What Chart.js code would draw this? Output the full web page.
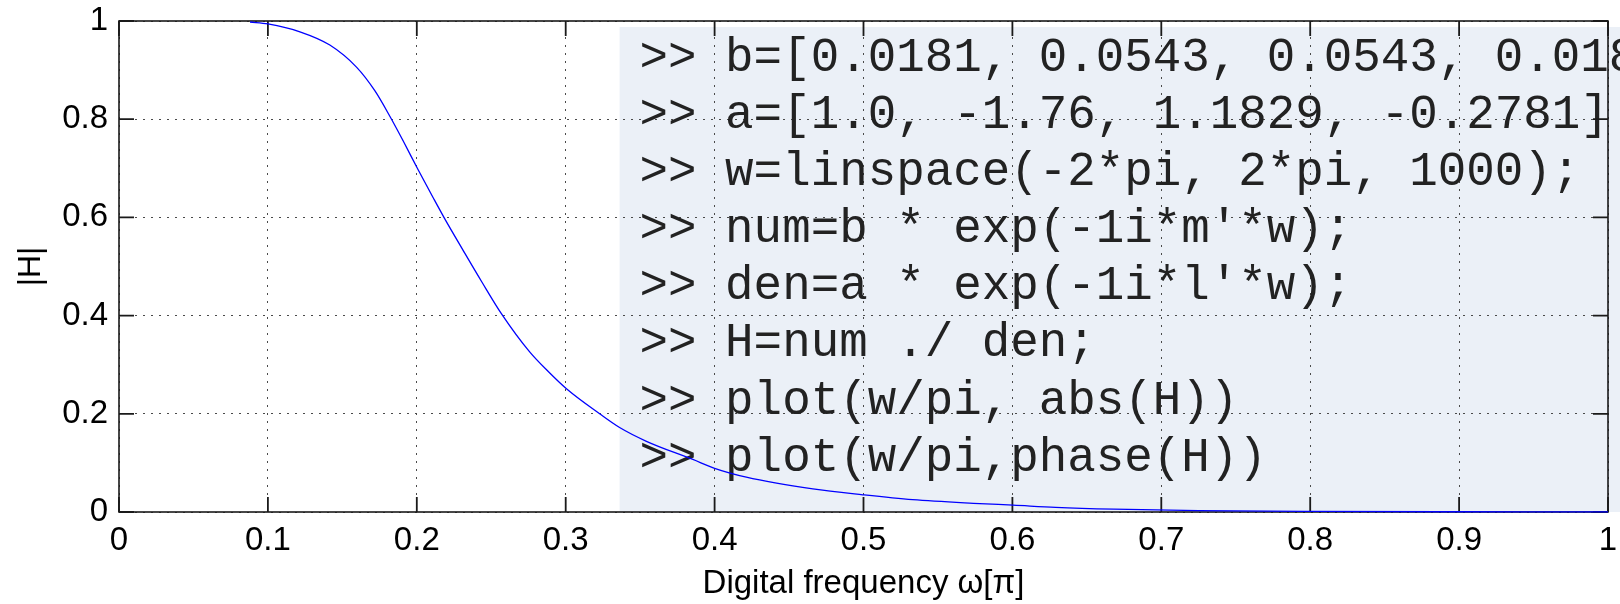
<!DOCTYPE html>
<html>
<head>
<meta charset="utf-8">
<script src="https://cdn.jsdelivr.net/npm/chart.js@4.4.0/dist/chart.umd.min.js"></script>
<style>
  html, body { margin: 0; padding: 0; background: #ffffff; }
  #wrap { width: 1620px; height: 604px; }
</style>
</head>
<body>
<div id="wrap"><canvas id="c" width="1620" height="604"></canvas></div>
<script>
// ---- data ----
const freq = [0.088, 0.100, 0.1215, 0.1416, 0.1595, 0.1718, 0.1819, 0.1908, 0.2009, 0.2110,
              0.2188, 0.2311, 0.2434, 0.2568, 0.2758, 0.2893, 0.3005, 0.3228, 0.3362, 0.3542,
              0.3854, 0.4000, 0.4213, 0.4660, 0.4995, 0.5330, 0.5780, 0.6005, 0.6290, 0.6680,
              0.7250, 0.8000, 0.9000, 1.0000];
const mag  = [0.998, 0.994, 0.978, 0.951, 0.906, 0.858, 0.806, 0.756, 0.697, 0.640,
              0.597, 0.533, 0.470, 0.404, 0.326, 0.283, 0.251, 0.200, 0.172, 0.144,
              0.107, 0.089, 0.071, 0.047, 0.035, 0.0250, 0.0172, 0.0140, 0.0095, 0.0058,
              0.0028, 0.0012, 0.0005, 0.0003];
const xTickValues = [0, 0.1, 0.2, 0.3, 0.4, 0.5, 0.6, 0.7, 0.8, 0.9, 1];
const xTickLabels = ['0', '0.1', '0.2', '0.3', '0.4', '0.5', '0.6', '0.7', '0.8', '0.9', '1'];
const yTickValues = [0, 0.2, 0.4, 0.6, 0.8, 1];
const yTickLabels = ['0', '0.2', '0.4', '0.6', '0.8', '1'];
const xTitle = 'Digital frequency \u03c9[\u03c0]';
const yTitle = '|H|';
const codeLines = [
  '>> b=[0.0181, 0.0543, 0.0543, 0.0181]',
  '>> a=[1.0, -1.76, 1.1829, -0.2781]',
  '>> w=linspace(-2*pi, 2*pi, 1000);',
  ">> num=b * exp(-1i*m'*w);",
  ">> den=a * exp(-1i*l'*w);",
  '>> H=num ./ den;',
  '>> plot(w/pi, abs(H))',
  '>> plot(w/pi,phase(H))'
];

const SANS = '"Liberation Sans", Arial, sans-serif';
const MONO = '"Liberation Mono", "Courier New", monospace';

function drawFrameAndTicks(chart) {
  const {ctx, chartArea} = chart;
  const x = chart.scales.x, y = chart.scales.y;
  const L = chartArea.left, R = chartArea.right, T = chartArea.top, B = chartArea.bottom;
  const tl = 15;
  ctx.save();
  ctx.setLineDash([]);
  ctx.strokeStyle = '#1a1a1a';
  ctx.lineWidth = 1.6;
  ctx.strokeRect(L, T, R - L, B - T);
  ctx.lineWidth = 1.8;
  ctx.beginPath();
  for (let i = 0; i < xTickValues.length; i++) {
    const px = x.getPixelForValue(xTickValues[i]);
    ctx.moveTo(px, B); ctx.lineTo(px, B - tl);
    ctx.moveTo(px, T); ctx.lineTo(px, T + tl);
  }
  for (let i = 0; i < yTickValues.length; i++) {
    const py = y.getPixelForValue(yTickValues[i]);
    ctx.moveTo(L, py); ctx.lineTo(L + tl, py);
    ctx.moveTo(R, py); ctx.lineTo(R - tl, py);
  }
  ctx.stroke();
  ctx.restore();
}

const boxPlugin = {
  id: 'codeBox',
  beforeDraw(chart) {
    const {ctx, chartArea} = chart;
    const x = chart.scales.x, y = chart.scales.y;
    const left = x.getPixelForValue(0.3362);
    const top = y.getPixelForValue(0.9878);
    ctx.save();
    ctx.fillStyle = 'rgb(235,240,247)';
    ctx.fillRect(left, top, chart.width - left, chartArea.bottom - top);
    ctx.restore();
  },
  beforeDatasetsDraw(chart) {
    const {ctx} = chart;
    const x = chart.scales.x, y = chart.scales.y;
    const left = x.getPixelForValue(0.3362);
    const top = y.getPixelForValue(0.9878);
    ctx.save();
    ctx.fillStyle = '#222';
    ctx.font = '47.5px ' + MONO;
    ctx.textBaseline = 'alphabetic';
    ctx.textAlign = 'left';
    codeLines.forEach((line, i) => {
      ctx.fillText(line, left + 20, top + 44 + i * 57.1);
    });
    ctx.restore();
    drawFrameAndTicks(chart);
  }
};

new Chart(document.getElementById('c'), {
  type: 'line',
  data: {
    datasets: [{
      data: freq.map((f, i) => ({x: f, y: mag[i]})),
      borderColor: '#0000ff',
      borderWidth: 1.3,
      pointRadius: 0,
      fill: false,
      cubicInterpolationMode: 'monotone',
      clip: false
    }]
  },
  plugins: [boxPlugin],
  options: {
    responsive: false,
    animation: false,
    devicePixelRatio: 1,
    layout: { padding: { top: 21, right: 12, left: 0, bottom: 0 } },
    plugins: { legend: { display: false }, tooltip: { enabled: false }, title: { display: false } },
    scales: {
      x: {
        type: 'linear', min: 0, max: 1,
        afterBuildTicks: s => { s.ticks = xTickValues.map(v => ({value: v})); },
        afterFit: s => { s.height = 92; s.paddingLeft = 0; s.paddingRight = 0; },
        ticks: {
          autoSkip: false, maxRotation: 0, padding: 9, color: '#000',
          font: { family: SANS, size: 33 },
          callback: (v, i) => xTickLabels[i]
        },
        grid: { color: '#4a4a4a', lineWidth: 1, drawTicks: false },
        border: { display: false, dash: [2, 6] },
        title: { display: true, text: xTitle, color: '#000', font: { family: SANS, size: 33 }, padding: { top: 0, bottom: 0 } }
      },
      y: {
        type: 'linear', min: 0, max: 1,
        afterBuildTicks: s => { s.ticks = yTickValues.map(v => ({value: v})); },
        afterFit: s => { s.width = 119; s.paddingTop = 0; s.paddingBottom = 0; },
        ticks: {
          autoSkip: false, padding: 11, color: '#000',
          font: { family: SANS, size: 33 },
          callback: (v, i) => yTickLabels[i]
        },
        grid: { color: '#4a4a4a', lineWidth: 1, drawTicks: false },
        border: { display: false, dash: [2, 6] },
        title: { display: true, text: yTitle, color: '#000', font: { family: SANS, size: 32 }, padding: { top: 12, bottom: 0 } }
      }
    }
  }
});
</script>
</body>
</html>
